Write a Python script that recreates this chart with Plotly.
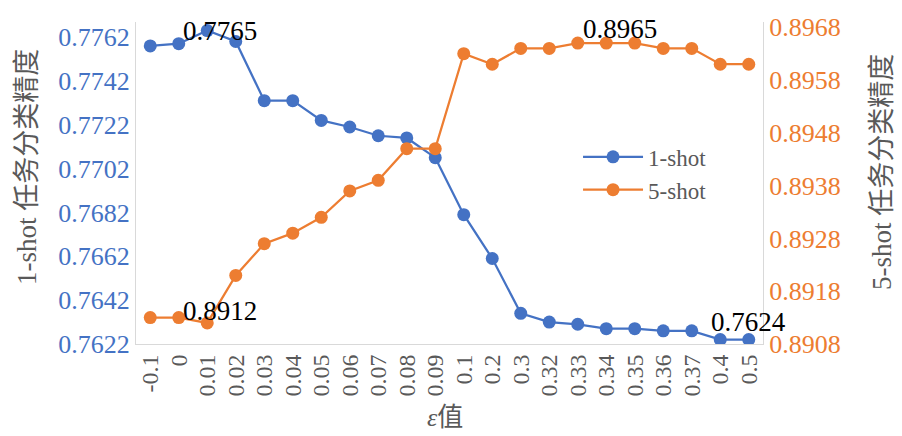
import plotly.graph_objects as go

categories = ["-0.1", "0", "0.01", "0.02", "0.03", "0.04", "0.05", "0.06", "0.07", "0.08", "0.09",
              "0.1", "0.2", "0.3", "0.32", "0.33", "0.34", "0.35", "0.36", "0.37", "0.4", "0.5"]
one_shot = [0.7758, 0.7759, 0.7765, 0.7760, 0.7733, 0.7733, 0.7724, 0.7721, 0.7717, 0.7716, 0.7707,
            0.7681, 0.7661, 0.7636, 0.7632, 0.7631, 0.7629, 0.7629, 0.7628, 0.7628, 0.7624, 0.7624]
five_shot = [0.8913, 0.8913, 0.8912, 0.8921, 0.8927, 0.8929, 0.8932, 0.8937, 0.8939, 0.8945, 0.8945,
             0.8963, 0.8961, 0.8964, 0.8964, 0.8965, 0.8965, 0.8965, 0.8964, 0.8964, 0.8961, 0.8961]
left_ticks = [0.7622, 0.7642, 0.7662, 0.7682, 0.7702, 0.7722, 0.7742, 0.7762]
right_ticks = [0.8908, 0.8918, 0.8928, 0.8938, 0.8948, 0.8958, 0.8968]

BLUE = "#4472C4"
ORANGE = "#ED7D31"
GRAY = "#595959"
FONT = "Liberation Serif, Times New Roman, Noto Sans CJK SC, serif"

idx = list(range(len(categories)))

fig = go.Figure()
fig.add_trace(go.Scatter(x=idx, y=one_shot, name="1-shot", mode="lines+markers",
                         line=dict(color=BLUE, width=2.25), marker=dict(size=13, color=BLUE)))
fig.add_trace(go.Scatter(x=idx, y=five_shot, name="5-shot", mode="lines+markers", yaxis="y2",
                         line=dict(color=ORANGE, width=2.25), marker=dict(size=13, color=ORANGE)))

lab = dict(size=27, color="black", family=FONT)
ann = []
# data labels
ann.append(dict(x=2, y=one_shot[2], xref="x", yref="y", text=f"{one_shot[2]:.4f}",
                showarrow=False, xshift=13, yshift=0, font=lab))
ann.append(dict(x=21, y=one_shot[21], xref="x", yref="y", text=f"{one_shot[21]:.4f}",
                showarrow=False, xshift=0, yshift=18, font=lab))
ann.append(dict(x=2, y=five_shot[2], xref="x", yref="y2", text=f"{five_shot[2]:.4f}",
                showarrow=False, xshift=13, yshift=12, font=lab))
ann.append(dict(x=16, y=five_shot[16], xref="x", yref="y2", text=f"{five_shot[16]:.4f}",
                showarrow=False, xshift=14, yshift=14, font=lab))
# axis titles
ann.append(dict(x=-0.1738, y=0.55, xref="paper", yref="paper", text="1-shot 任务分类精度", textangle=-90,
                xanchor="center", yanchor="middle",
                showarrow=False, font=dict(size=27, color=GRAY, family=FONT)))
ann.append(dict(x=1.1898, y=0.534, xref="paper", yref="paper", text="5-shot 任务分类精度", textangle=-90,
                xanchor="center", yanchor="middle",
                showarrow=False, font=dict(size=27, color=GRAY, family=FONT)))
ann.append(dict(x=0.493, y=-0.228, xref="paper", yref="paper", text="<i>ε</i>值",
                xanchor="center", yanchor="middle",
                showarrow=False, font=dict(size=26, color=GRAY, family=FONT)))

fig.update_layout(
    width=894, height=428,
    margin=dict(l=128, r=139, t=14, b=92),
    paper_bgcolor="white", plot_bgcolor="white",
    font=dict(family=FONT, size=26, color=GRAY),
    showlegend=True,
    legend=dict(x=0.705, y=0.648, xanchor="left", yanchor="top", bgcolor="rgba(0,0,0,0)",
                font=dict(size=23, color=GRAY, family=FONT), tracegroupgap=0, itemwidth=60),
    xaxis=dict(range=[-0.5, len(categories) - 0.5], tickmode="array", tickvals=idx, ticktext=categories,
               tickangle=-90, showgrid=False, showline=True, linecolor="#D9D9D9", automargin=False,
               linewidth=1, ticks="", tickfont=dict(size=24, color=GRAY, family=FONT), zeroline=False),
    yaxis=dict(range=[0.7622, 0.77689], tickvals=left_ticks, ticktext=[f"{v:.4f}" for v in left_ticks],
               showgrid=False, showline=True, linecolor="#D9D9D9", linewidth=1, ticks="", automargin=False,
               tickfont=dict(size=26, color=BLUE, family=FONT), zeroline=False),
    yaxis2=dict(range=[0.8908, 0.8969], tickvals=right_ticks, ticktext=[f"{v:.4f}" for v in right_ticks],
                overlaying="y", side="right", showgrid=False, showline=True, linecolor="#D9D9D9",
                linewidth=1, ticks="", automargin=False,
                tickfont=dict(size=26, color=ORANGE, family=FONT), zeroline=False),
    annotations=ann,
)

fig.write_html("out.html")
